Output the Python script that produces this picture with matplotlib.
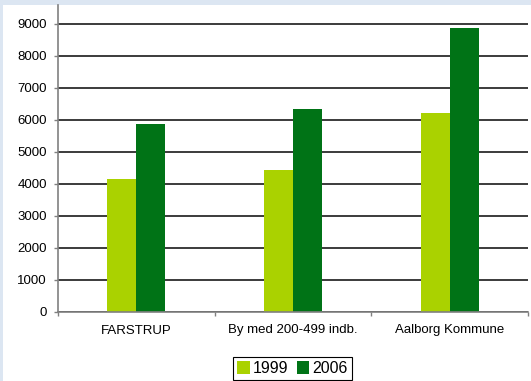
import matplotlib
matplotlib.use('Agg')
import matplotlib.pyplot as plt
from matplotlib.patches import Rectangle
from numpy import arange

# data
categories = ['FARSTRUP', 'By med 200-499 indb.', 'Aalborg Kommune']
values_1999 = [4170, 4450, 6230]
values_2006 = [5860, 6330, 8860]
series_labels = ['1999', '2006']
y_ticks = [0, 1000, 2000, 3000, 4000, 5000, 6000, 7000, 8000, 9000]

color_1999 = '#aad200'
color_2006 = '#007316'
W, H = 531, 381

plt.rcParams['font.family'] = ['Liberation Sans', 'DejaVu Sans']

fig = plt.figure(figsize=(W / 100, H / 100), dpi=100, facecolor='#dce6f2')
# white panel inside the light blue border
fig.patches.append(Rectangle((3 / W, 0), 1, 1 - 5 / H, transform=fig.transFigure,
                             facecolor='white', edgecolor='none', zorder=0))

ax = fig.add_axes([58 / W, 1 - 312 / H, (528 - 58) / W, (312 - 5) / H])
ax.set_facecolor('none')
ax.set_zorder(2)

x = arange(len(categories))
bw = 0.185
ax.bar(x - bw / 2, values_1999, width=bw, color=color_1999, label=series_labels[0], zorder=3)
ax.bar(x + bw / 2, values_2006, width=bw, color=color_2006, label=series_labels[1], zorder=3)

ax.set_xlim(-0.5, 2.5)
ax.set_ylim(0, 9590)
ax.set_yticks(y_ticks)
ax.set_yticklabels([str(v) for v in y_ticks], fontsize=9.5)
ax.yaxis.grid(True, color='#1a1a1a', linewidth=1.2, zorder=1)
ax.set_axisbelow(True)

# category boundaries get ticks, labels sit in the middle
ax.set_xticks([-0.5, 0.5, 1.5, 2.5])
ax.set_xticklabels([])
ax.set_xticks(x, minor=True)
ax.set_xticklabels(categories, minor=True, fontsize=9.5)
ax.tick_params(axis='x', which='major', length=3, width=1, color='#808080')
ax.tick_params(axis='x', which='minor', length=0, pad=9)
ax.tick_params(axis='y', length=3, width=1, color='#808080', pad=5)

for side in ['top', 'right']:
    ax.spines[side].set_visible(False)
for side in ['left', 'bottom']:
    ax.spines[side].set_color('#808080')
    ax.spines[side].set_linewidth(1.2)
    ax.spines[side].set_zorder(4)

leg = ax.legend(loc='upper center', bbox_to_anchor=(292.5 / W, 1 - 357 / H),
                bbox_transform=fig.transFigure, ncol=2, fontsize=11.5,
                frameon=True, fancybox=False, edgecolor='black', framealpha=1,
                handlelength=0.8, handleheight=0.8, handletextpad=0.2,
                columnspacing=0.5, borderpad=0.25, borderaxespad=0)
leg.get_frame().set_linewidth(0.8)

fig.savefig('out.png', dpi=100, facecolor=fig.get_facecolor())
